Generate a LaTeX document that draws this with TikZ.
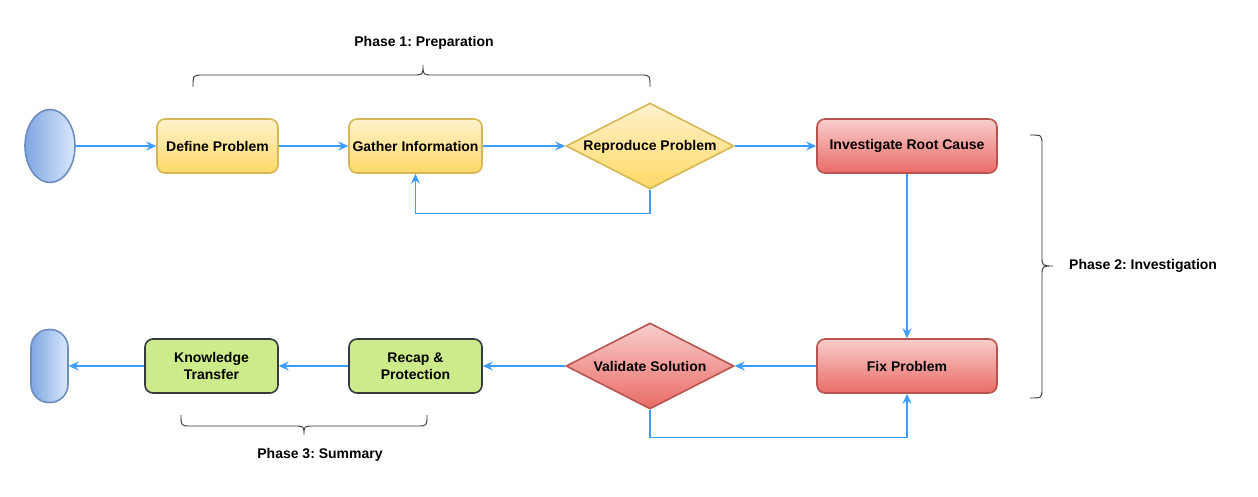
\documentclass[tikz,border=0pt]{standalone}
\usepackage{fontspec}
\setmainfont{Liberation Sans}
\frenchspacing
\usetikzlibrary{shapes.geometric,arrows.meta}
\definecolor{flowc}{HTML}{3C9CFF}
\definecolor{ytop}{HTML}{FFF2CC}
\definecolor{ybot}{HTML}{FFD966}
\definecolor{ybord}{HTML}{D6B656}
\definecolor{rtop}{HTML}{F8CECC}
\definecolor{rbot}{HTML}{EA6B66}
\definecolor{rbord}{HTML}{B85450}
\definecolor{gfill}{HTML}{CDEB8B}
\definecolor{gbord}{HTML}{36393D}
\definecolor{bleft}{HTML}{7EA6E0}
\definecolor{bright}{HTML}{DAE8FC}
\definecolor{bbord}{HTML}{6C8EBF}
\definecolor{bracec}{HTML}{333333}
\begin{document}
\begin{tikzpicture}[x=1pt,y=-1pt,
  every node/.style={font=\fontsize{14}{16.5}\selectfont\bfseries, align=center, inner sep=0pt},
  box/.style={rectangle, rounded corners=8pt, line width=1.6pt, minimum width=#1, minimum height=54pt},
  yellowbox/.style={box=#1, draw=ybord, top color=ytop, bottom color=ybot},
  redbox/.style={box=#1, draw=rbord, top color=rtop, bottom color=rbot},
  greenbox/.style={box=#1, draw=gbord, fill=gfill},
  decide/.style={diamond, aspect=1.95, minimum width=168pt, minimum height=86pt, line width=1.6pt, text height=10pt, text depth=0pt},
  ydecide/.style={decide, draw=ybord, top color=ytop, bottom color=ybot},
  rdecide/.style={decide, draw=rbord, top color=rtop, bottom color=rbot},
  terminal/.style={draw=bbord, line width=1.6pt, left color=bleft, right color=bright},
  flow/.style={draw=flowc, line width=1.2pt, -{Stealth[length=10pt,width=9pt,inset=3.5pt]}},
  bracestyle/.style={draw=bracec, line width=0.9pt},
  phase/.style={font=\fontsize{14}{16}\selectfont\bfseries}
]
\useasboundingbox (0,0) rectangle (1258,497);

% nodes
\node[terminal, ellipse, minimum width=50pt, minimum height=73pt] (start) at (50,146) {};
\node[yellowbox=121pt] (def) at (217.5,146) {Define Problem};
\node[yellowbox=133pt] (gath) at (415.5,146) {Gather Information};
\node[ydecide] (repro) at (650,146) {Reproduce Problem};
\node[redbox=180pt] (inv) at (907,146) {Investigate Root Cause};
\node[redbox=180pt] (fix) at (907,366) {Fix Problem};
\node[rdecide] (val) at (650,366) {Validate Solution};
\node[greenbox=133pt] (recap) at (415.5,366) {Recap \&\\Protection};
\node[greenbox=133pt] (know) at (211.5,366) {Knowledge\\Transfer};
\node[terminal, rectangle, rounded corners=18pt, minimum width=37pt, minimum height=73pt] (end) at (49.5,366) {};

% connectors
\draw[flow] (start) -- (def);
\draw[flow] (def) -- (gath);
\draw[flow] (gath) -- (repro);
\draw[flow] (repro) -- (inv);
\draw[flow] (repro.south) -- ++(0,24) -| (gath.south);
\draw[flow] (inv) -- (fix);
\draw[flow] (fix) -- (val);
\draw[flow] (val) -- (recap);
\draw[flow] (recap) -- (know);
\draw[flow] (know) -- (end);
\draw[flow] (val.south) -- ++(0,28) -| (fix.south);

% phase labels
\node[phase] (p1) at (424,43) {Phase 1: Preparation};
\node[phase, anchor=west] (p2) at (1069,266) {Phase 2: Investigation};
\node[phase] (p3) at (320,455) {Phase 3: Summary};

% braces
\draw[bracestyle] (193,87) .. controls (193,75) .. (203,75) -- (413,75)
  .. controls (423,75) .. (423,65) .. controls (423,75) .. (433,75) -- (640,75)
  .. controls (650,75) .. (650,87);
\draw[bracestyle] (1030,135) .. controls (1042,135) .. (1042,145) -- (1042,256)
  .. controls (1042,266) .. (1053,266) .. controls (1042,266) .. (1042,276) -- (1042,388)
  .. controls (1042,398) .. (1030,398);
\draw[bracestyle] (181,415) .. controls (181,426) .. (191,426) -- (294,426)
  .. controls (304,426) .. (304,435) .. controls (304,426) .. (314,426) -- (417,426)
  .. controls (427,426) .. (427,415);
\end{tikzpicture}
\end{document}
